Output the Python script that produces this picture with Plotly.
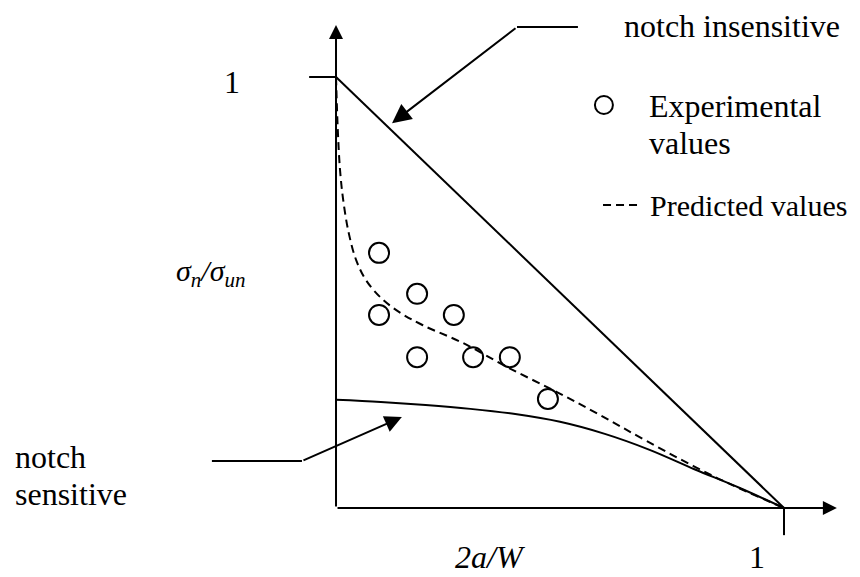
import plotly.graph_objects as go

# ---- data ----
exp_x = [0.096, 0.181, 0.096, 0.263, 0.181, 0.306, 0.388, 0.473]
exp_y = [0.592, 0.497, 0.448, 0.448, 0.350, 0.350, 0.350, 0.253]

pred_x = [0.0, 0.004, 0.009, 0.016, 0.028, 0.045, 0.068, 0.103, 0.145, 0.194,
          0.283, 0.382, 0.493, 0.589, 0.694, 0.842, 1.0]
pred_y = [1.0, 0.877, 0.784, 0.715, 0.640, 0.575, 0.527, 0.485, 0.452, 0.424,
          0.383, 0.327, 0.269, 0.216, 0.155, 0.074, 0.0]

sens_x = [0.0, 0.1, 0.2, 0.3, 0.4, 0.5, 0.6, 0.7, 0.8, 0.9, 1.0]
sens_y = [0.251, 0.246, 0.239, 0.230, 0.218, 0.200, 0.172, 0.135, 0.090, 0.047, 0.0]

insens_x = [0.0, 1.0]
insens_y = [1.0, 0.0]

tick_labels = ["1", "1"]

FONT = "Liberation Serif, Times New Roman, serif"
BLACK = "#000000"

fig = go.Figure()

fig.add_trace(go.Scatter(x=insens_x, y=insens_y, mode="lines",
                         line=dict(color=BLACK, width=2), hoverinfo="skip"))
fig.add_trace(go.Scatter(x=sens_x, y=sens_y, mode="lines", line_shape="spline",
                         line=dict(color=BLACK, width=2), hoverinfo="skip"))
fig.add_trace(go.Scatter(x=pred_x, y=pred_y, mode="lines", line_shape="spline",
                         line=dict(color=BLACK, width=2, dash="8px,5px"), hoverinfo="skip"))
fig.add_trace(go.Scatter(x=exp_x, y=exp_y, mode="markers",
                         marker=dict(symbol="circle-open", size=20, color=BLACK,
                                     line=dict(width=2, color=BLACK))))
# legend samples
fig.add_trace(go.Scatter(x=[0.598], y=[0.935], mode="markers",
                         marker=dict(symbol="circle-open", size=18, color=BLACK,
                                     line=dict(width=2, color=BLACK))))
fig.add_trace(go.Scatter(x=[0.596, 0.679], y=[0.703, 0.703], mode="lines",
                         line=dict(color=BLACK, width=2, dash="8px,5px")))

line_style = dict(color=BLACK, width=2)
shapes = [
    dict(type="line", xref="x", yref="y", x0=-0.06, x1=0.0, y0=1.0, y1=1.0, line=line_style),
    dict(type="line", xref="x", yref="y", x0=1.0, x1=1.0, y0=0.0, y1=-0.063, line=line_style),
    dict(type="line", xref="x", yref="y", x0=0.404, x1=0.540, y0=1.116, y1=1.116, line=line_style),
    dict(type="line", xref="x", yref="y", x0=-0.277, x1=-0.076, y0=0.109, y1=0.109, line=line_style),
]

annotations = []
def arrow(tx, ty, sx, sy, size=1.8, head=2):
    annotations.append(dict(x=tx, y=ty, ax=sx, ay=sy, xref="x", yref="y", axref="x", ayref="y",
                            text="", showarrow=True, arrowhead=head, arrowsize=size,
                            arrowwidth=2, arrowcolor=BLACK, standoff=0))

arrow(0.0, 1.1206, 0.0, 0.0, size=1.4)
arrow(1.118, 0.0, 0.0, 0.0, size=1.4)
arrow(0.125, 0.893, 0.404, 1.116, size=1.9)
arrow(0.147, 0.211, -0.076, 0.109, size=1.7)

def text(x, y, s, anchor="left", size=32, yanchor="middle"):
    annotations.append(dict(x=x, y=y, xref="x", yref="y", text=s, showarrow=False,
                            xanchor=anchor, yanchor=yanchor,
                            font=dict(family=FONT, size=size, color=BLACK)))

text(0.638, 1.118, "notch insensitive")
text(0.694, 0.933, "Experimental")
text(0.694, 0.847, "values")
text(0.696, 0.703, "Predicted values", size=30)
text(-0.721, 0.118, "notch")
text(-0.721, 0.032, "sensitive")
text(-0.232, 0.988, tick_labels[0], anchor="center")
text(0.940, -0.1601, tick_labels[1], anchor="center", yanchor="bottom")
text(0.344, -0.1601, "<i>2a/W</i>", anchor="center", yanchor="bottom")
text(-0.281, 0.545, "<i>σ<sub>n</sub>/σ<sub>un</sub></i>", anchor="center", size=30)

fig.update_layout(
    width=860, height=577,
    margin=dict(l=0, r=0, t=0, b=0),
    paper_bgcolor="white", plot_bgcolor="white",
    showlegend=False,
    xaxis=dict(range=[-0.75, 1.1696], visible=False, fixedrange=True),
    yaxis=dict(range=[-0.1601, 1.1787], visible=False, fixedrange=True),
    shapes=shapes, annotations=annotations,
)

fig.write_html("out.html")
